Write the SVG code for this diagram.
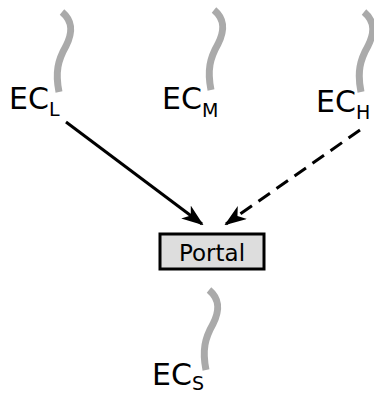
<svg xmlns="http://www.w3.org/2000/svg" width="374" height="395" viewBox="0 0 374 395">
<defs>
<style>
.wave{fill:none;stroke:#aaaaaa;stroke-width:7}
.lbl{font-family:"DejaVu Sans",sans-serif;font-size:30px;fill:#000}
.sub{font-size:19px}
.conn{fill:none;stroke:#000;stroke-width:3}
</style>
<marker id="ah" viewBox="0 0 22 16" refX="20" refY="8" markerWidth="22" markerHeight="16" markerUnits="userSpaceOnUse" orient="auto">
<path d="M0,0 L22,8 L0,16 L6,8 Z" fill="#000"/>
</marker>
</defs>
<g id="ecl">
<path class="wave" d="M62,12 C74,22 72,34 66,46 C58,60 55,72 59,92"/>
<text class="lbl" x="9" y="109">EC<tspan class="sub" dy="7">L</tspan></text>
</g>
<g id="ecm">
<path class="wave" d="M214,10 C226,20 224,32 218,44 C210,58 207,70 211,90"/>
<text class="lbl" x="162" y="109">EC<tspan class="sub" dy="8">M</tspan></text>
</g>
<g id="ech">
<path class="wave" d="M364,12 C376,22 374,34 368,46 C360,60 357,72 361,92"/>
<text class="lbl" x="316" y="112">EC<tspan class="sub" dy="7">H</tspan></text>
</g>
<g id="portal">
<rect x="160" y="234" width="104" height="35" fill="#dddddd" stroke="#000" stroke-width="3"/>
<text x="212" y="261" text-anchor="middle" font-family="DejaVu Sans,sans-serif" font-size="23">Portal</text>
</g>
<g id="ecs">
<path class="wave" d="M209,290 C221,300 219,312 213,324 C205,338 202,350 206,370"/>
<text class="lbl" x="152" y="385">EC<tspan class="sub" dy="5">S</tspan></text>
</g>
<g id="connectors">
<path class="conn" d="M66,122 L202,224" marker-end="url(#ah)"/>
<path class="conn" d="M360,130 L226,224" stroke-dasharray="14,8" marker-end="url(#ah)"/>
</g>
</svg>
